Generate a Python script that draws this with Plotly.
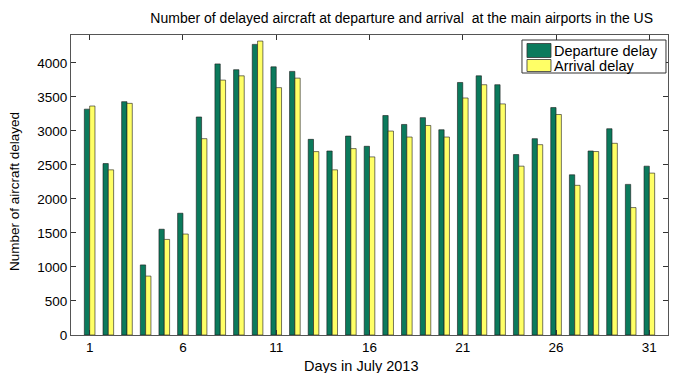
import plotly.graph_objects as go

days = list(range(1, 32))
departure = [3320, 2520, 3430, 1030, 1555, 1790, 3205, 3985, 3900, 4272,
             3942, 3875, 2876, 2705, 2924, 2774, 3226, 3095, 3195, 3017,
             3712, 3810, 3679, 2652, 2886, 3343, 2355, 2705, 3032, 2214, 2482]
arrival = [3366, 2428, 3405, 866, 1405, 1484, 2886, 3747, 3810, 4321,
           3636, 3776, 2696, 2428, 2740, 2618, 2998, 2910, 3080, 2910,
           3484, 3679, 3397, 2482, 2798, 3241, 2200, 2697, 2818, 1873, 2380]
x_ticks = [1, 6, 11, 16, 21, 26, 31]
series_names = ["Departure delay", "Arrival delay"]
series_colors = ["#0b7a5c", "#ffff66"]

font = "Liberation Sans, Arial, sans-serif"

fig = go.Figure()
for name, vals, col in zip(series_names, [departure, arrival], series_colors):
    fig.add_trace(go.Bar(x=days, y=vals, name=name, showlegend=False,
                         marker=dict(color=col, line=dict(color="#1a1a1a", width=0.6))))

# custom MATLAB-style legend (paper coordinates)
fig.add_shape(type="rect", xref="paper", yref="paper", x0=0.7554, x1=0.9966,
              y0=0.8733, y1=0.9833, line=dict(color="#333333", width=1),
              fillcolor="white", layer="above")
sw_y = [(0.925, 0.9717), (0.8783, 0.9183)]
txt_y = [0.9483, 0.8983]
for name, col, (ya, yb), ty in zip(series_names, series_colors, sw_y, txt_y):
    fig.add_shape(type="rect", xref="paper", yref="paper", x0=0.7638, x1=0.8040,
                  y0=ya, y1=yb, line=dict(color="#333333", width=0.8),
                  fillcolor=col, layer="above")
    fig.add_annotation(xref="paper", yref="paper", x=0.8057, y=ty, text=name,
                       showarrow=False, xanchor="left", yanchor="middle",
                       font=dict(size=14.5, family=font, color="black"))

# axis titles
fig.add_annotation(xref="paper", yref="paper", x=0.4858, y=-0.103,
                   text="Days in July 2013", showarrow=False,
                   xanchor="center", yanchor="middle",
                   font=dict(size=14.5, family=font, color="black"))
fig.add_annotation(xref="paper", yref="paper", x=-0.0955, y=0.48,
                   text="Number of aircraft delayed", showarrow=False, textangle=-90,
                   xanchor="center", yanchor="middle",
                   font=dict(size=13.5, family=font, color="black"))

fig.update_layout(
    width=674, height=373,
    margin=dict(l=71, r=6, t=35, b=38),
    paper_bgcolor="white", plot_bgcolor="white",
    barmode="group", bargap=0.43, bargroupgap=0.0,
    showlegend=False,
    font=dict(family=font, size=13, color="black"),
    title=dict(text="Number of delayed aircraft at departure and arrival  at the main airports in the US",
               x=0.596, xanchor="center", y=0.952, yanchor="middle",
               font=dict(size=14, family=font, color="black")),
    xaxis=dict(range=[0, 32], tickmode="array", tickvals=x_ticks,
               ticktext=[str(t) for t in x_ticks],
               ticks="inside", ticklen=5, tickcolor="#333333",
               showline=True, linecolor="#555555", linewidth=1, mirror="ticks",
               showgrid=False, zeroline=False,
               tickfont=dict(size=13.5)),
    yaxis=dict(range=[0, 4410], tickmode="linear", tick0=0, dtick=500,
               ticks="inside", ticklen=5, tickcolor="#333333",
               showline=True, linecolor="#555555", linewidth=1, mirror="ticks",
               showgrid=False, zeroline=False,
               tickfont=dict(size=13.5)),
)

fig.write_html("out.html")
